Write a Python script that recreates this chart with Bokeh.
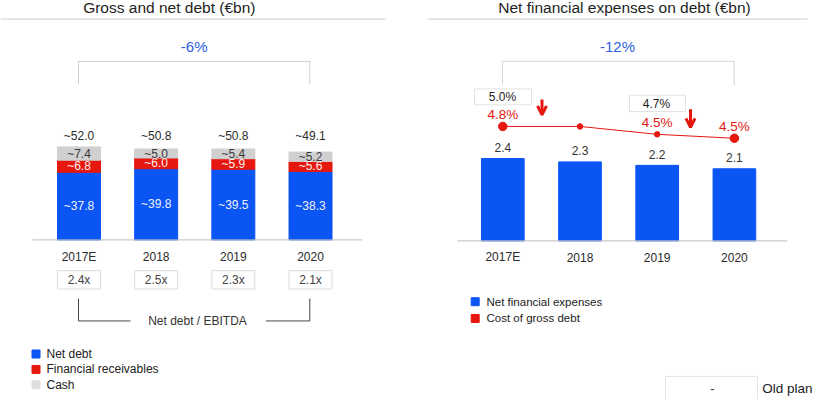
from bokeh.plotting import figure
from bokeh.models import Range1d, ColumnDataSource, Arrow, OpenHead
from bokeh.layouts import row
from bokeh.embed import file_html
from bokeh.resources import INLINE
from bokeh.core.properties import value

# ---------------- data ----------------
categories = ["2017E", "2018", "2019", "2020"]
net_debt = [37.8, 39.8, 39.5, 38.3]
fin_receivables = [6.8, 6.0, 5.9, 5.6]
cash = [7.4, 5.0, 5.4, 5.2]
gross_debt = [52.0, 50.8, 50.8, 49.1]
net_debt_ebitda = [2.4, 2.5, 2.3, 2.1]
gross_change = "-6%"

net_fin_expenses = [2.4, 2.3, 2.2, 2.1]
cost_gross_debt = [4.8, 4.8, 4.6, 4.5]
cost_labels = ["4.8%", "", "4.5%", "4.5%"]
old_plan_cost = ["5.0%", "4.7%"]
expenses_change = "-12%"

left_title = "Gross and net debt (€bn)"
right_title = "Net financial expenses on debt (€bn)"
left_legend = ["Net debt", "Financial receivables", "Cash"]
right_legend = ["Net financial expenses", "Cost of gross debt"]

# ---------------- styles ----------------
BLUE = "#0b55f5"
RED = "#e5170f"
GRAY = "#d0d0d0"
TXT = "#2b2b2b"
PCT_BLUE = "#2f5fe0"
FONT = value("Liberation Sans")

idx = list(range(len(categories)))


def make_fig(xr, yr, pxr):
    p = figure(width=407, height=399, x_range=xr, y_range=yr,
               output_backend="svg", toolbar_location=None,
               x_axis_location=None, y_axis_location=None,
               min_border=0, outline_line_color=None,
               background_fill_color="white", border_fill_color="white")
    p.grid.visible = False
    p.extra_x_ranges = {"px": Range1d(*pxr)}
    p.extra_y_ranges = {"py": Range1d(415, 0)}
    return p


def txt(p, x, y, t, size="12px", color=TXT, align="center", px=True, py=True, style="normal"):
    kw = {}
    if px:
        kw["x_range_name"] = "px"
    if py:
        kw["y_range_name"] = "py"
    p.text(x=x, y=y, text=t, text_font=FONT, text_font_size=size,
           text_color=color, text_align=align, text_baseline="middle",
           text_font_style=style, **kw)


# ================= LEFT =================
L_c0, L_step, L_base, L_scale = 86.5, 77.17, 249.0, 1.86
lx = Range1d((8 - L_c0) / L_step, (415 - L_c0) / L_step)
ly = Range1d(-(415 - L_base) / L_scale, L_base / L_scale)
p1 = make_fig(lx, ly, (8, 415))

bw = 0.557
src = ColumnDataSource(dict(x=idx, net=net_debt, rec=fin_receivables, cash=cash))
p1.vbar_stack(["net", "rec", "cash"], x="x", width=bw, color=[BLUE, RED, GRAY], source=src)

# baseline
p1.line(x=[40, 370], y=[L_base, L_base], x_range_name="px", y_range_name="py",
        line_color="#bdbdbd", line_width=1)

# segment labels
net_mid = [n / 2 for n in net_debt]
rec_mid = [n + r / 2 for n, r in zip(net_debt, fin_receivables)]
cash_mid = [n + r + c / 2 for n, r, c in zip(net_debt, fin_receivables, cash)]
txt(p1, idx, net_mid, [f"~{v:.1f}" for v in net_debt], color="#eef2ff", px=False, py=False)
txt(p1, idx, rec_mid, [f"~{v:.1f}" for v in fin_receivables], color="#fff0ee", px=False, py=False)
txt(p1, idx, cash_mid, [f"~{v:.1f}" for v in cash], color="#3a3a3a", px=False, py=False)
txt(p1, idx, [140.7] * 4, [f"~{v:.1f}" for v in gross_debt], px=False)

# category labels
txt(p1, idx, [266.7] * 4, categories, px=False)

# net debt / EBITDA boxes
p1.quad(left=[i - bw / 2 for i in idx], right=[i + bw / 2 for i in idx],
        top=[281] * 4, bottom=[300] * 4, y_range_name="py",
        fill_color="white", line_color="#dcdcdc", line_width=1)
txt(p1, idx, [291] * 4, [f"{v}x" for v in net_debt_ebitda], px=False, color="#444444")

# bottom bracket
p1.line(x=[86, 86, 138], y=[310, 333.3, 333.3], x_range_name="px", y_range_name="py",
        line_color="#444444", line_width=1)
p1.line(x=[273.5, 317.3, 317.3], y=[333.3, 333.3, 310], x_range_name="px", y_range_name="py",
        line_color="#444444", line_width=1)
txt(p1, [205], [333.3], ["Net debt / EBITDA"], color="#333333")

# top bracket
p1.line(x=[86, 86, 317.3, 317.3], y=[87, 63.3, 63.3, 87], x_range_name="px", y_range_name="py",
        line_color="#cfcfcf", line_width=1)
txt(p1, [201.7], [48.3], [gross_change], size="15px", color=PCT_BLUE)

# title
txt(p1, [176.8], [7.8], [left_title], size="15.5px", color="#1e1e1e")
p1.line(x=[8, 393], y=[19.3, 19.3], x_range_name="px", y_range_name="py",
        line_color="#cccccc", line_width=1)

# legend
p1.scatter(x=[43.5] * 3, y=[367.7, 383.7, 399.7], marker="square", size=8,
           color=[BLUE, RED, "#dedede"], x_range_name="px", y_range_name="py")
txt(p1, [54] * 3, [367.7, 383.7, 399.7], left_legend, align="left", color="#222222")

# ================= RIGHT =================
R_c0, R_step, R_base, R_scale = 510.3, 77.2, 250.0, 35.7
C_ref, C_y, C_scale = 4.8, 131.0, 41.0
rx = Range1d((415 - R_c0) / R_step, (822 - R_c0) / R_step)
ry = Range1d(-(415 - R_base) / R_scale, R_base / R_scale)
p2 = make_fig(rx, ry, (415, 822))
p2.extra_y_ranges["cost"] = Range1d(C_ref - (415 - C_y) / C_scale, C_ref + C_y / C_scale)

bw2 = 0.553
p2.vbar(x=idx, top=net_fin_expenses, width=bw2, color=BLUE)
p2.line(x=[465, 795], y=[R_base, R_base], x_range_name="px", y_range_name="py",
        line_color="#bdbdbd", line_width=1)
txt(p2, idx, [v + 11.5 / R_scale for v in net_fin_expenses],
    [f"{v:.1f}" for v in net_fin_expenses], px=False, py=False, color="#333333")
txt(p2, idx, [267.3] * 4, categories, px=False)

# cost of gross debt line
p2.line(x=idx, y=cost_gross_debt, y_range_name="cost", line_color=RED, line_width=1)
p2.scatter(x=idx, y=cost_gross_debt, y_range_name="cost", size=[8.5, 5.5, 5.5, 8.5],
           color=RED)
p2.text(x=idx, y=[c + 12.5 / C_scale for c in cost_gross_debt], text=cost_labels,
        y_range_name="cost", text_font=FONT, text_font_size="13.5px", text_color=RED,
        text_align="center", text_baseline="middle")

# old plan callouts
p2.quad(left=[482, 637], right=[539, 693], top=[92, 98.5], bottom=[108.5, 115.5],
        x_range_name="px", y_range_name="py", fill_color="white",
        line_color="#e2e2e2", line_width=1)
txt(p2, [510, 664], [100.3, 107.5], old_plan_cost, size="12px", color="#1e1e1e")

for xa, ys, ye in [(549.5, 103, 119), (698, 113, 132)]:
    p2.add_layout(Arrow(x_start=xa, y_start=ys, x_end=xa, y_end=ye,
                        x_range_name="px", y_range_name="py",
                        line_color=RED, line_width=3,
                        end=OpenHead(size=9, line_color=RED, line_width=3)))

# top bracket
p2.line(x=[510, 510, 741.7, 741.7], y=[87, 63.3, 63.3, 88], x_range_name="px", y_range_name="py",
        line_color="#d6d6d6", line_width=1)
txt(p2, [625], [48.3], [expenses_change], size="15px", color=PCT_BLUE)

# title
txt(p2, [632], [7.8], [right_title], size="15.5px", color="#1e1e1e")
p2.line(x=[435, 815], y=[19.3, 19.3], x_range_name="px", y_range_name="py",
        line_color="#cccccc", line_width=1)

# legend
p2.scatter(x=[482.7] * 2, y=[313.3, 330.7], marker="square", size=8,
           color=[BLUE, RED], x_range_name="px", y_range_name="py")
txt(p2, [494] * 2, [313.3, 330.7], right_legend, size="11.5px", align="left", color="#222222")

# old plan key
p2.quad(left=[673], right=[765], top=[391], bottom=[425], x_range_name="px", y_range_name="py",
        fill_color="white", line_color="#e4e4e4", line_width=1)
txt(p2, [720], [404], ["-"], size="13px", color="#333333")
txt(p2, [820], [404], ["Old plan"], size="13.5px", align="right", color="#222222")

layout = row(p1, p2, spacing=0)
open("out.html", "w").write(file_html(layout, INLINE))
